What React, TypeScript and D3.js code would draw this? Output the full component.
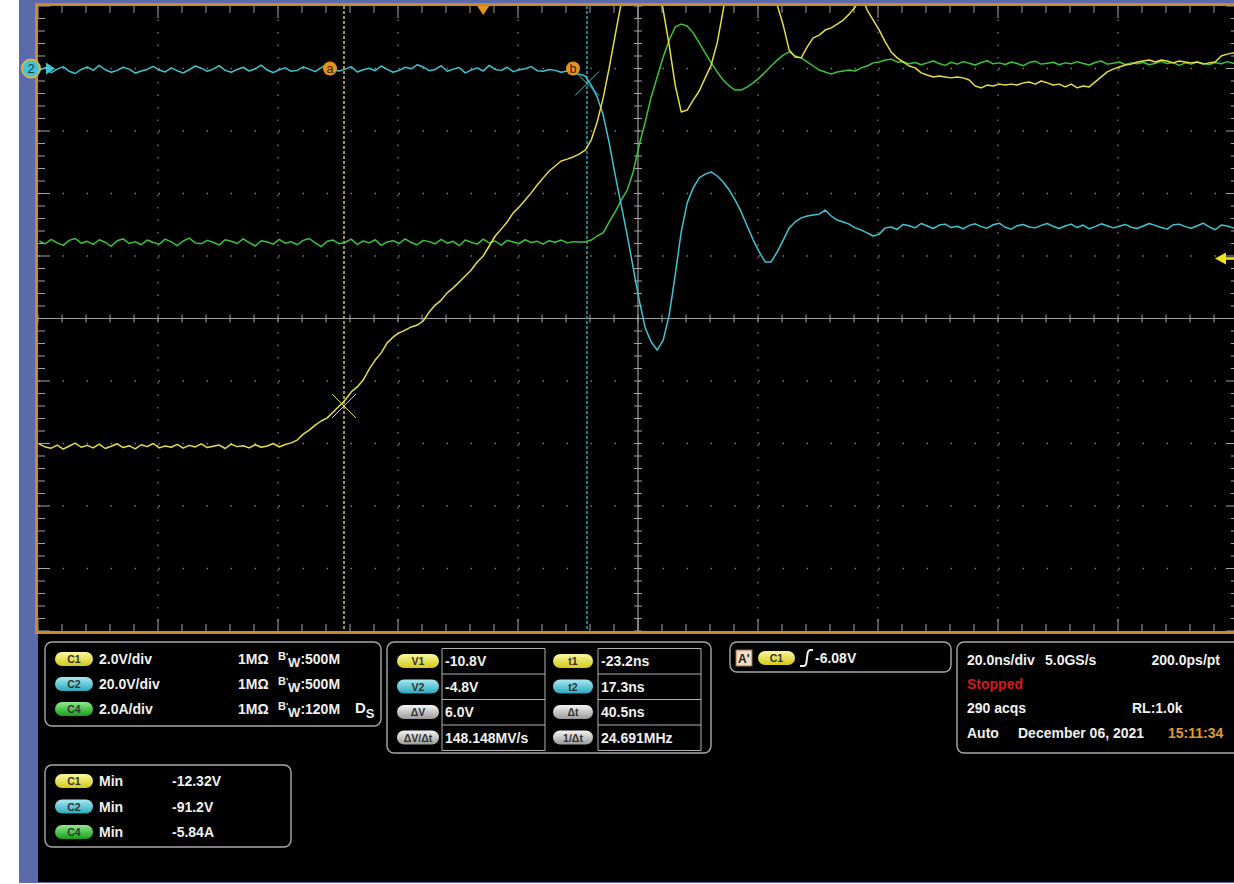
import React from "react";
import * as d3 from "d3";

const WIDTH = 1234;
const HEIGHT = 884;

// graticule: 10 x 10 divisions (120 px x 62.5 px)
const plot = { left: 38, top: 6, width: 1200, height: 625 };
const DIVS = 10;

// 20 ns/div, trigger point (t = 0) sits 3.7 div from the left edge
const timeDomain = [-74.2, 125.8];
const firstSampleNs = -74;
const sampleNs = 1;

// C1, volts (2.0 V/div)
const c1Volts = [
  -12.02, -12.11, -12.15, -12.05, -12.18, -12.08, -11.99, -12.12, -12.06, -12.14,
  -12.02, -12.16, -12.09, -12.01, -12.13, -12.07, -12.17, -12.04, -12.10, -12.0,
  -12.14, -12.08, -12.12, -12.03, -12.15, -12.06, -12.11, -12.01, -12.13, -12.09,
  -12.05, -12.16, -12.02, -12.10, -12.07, -12.14, -12.04, -12.12, -12.08, -12.0,
  -12.11, -12.03,
  -11.98, -11.89, -11.70, -11.57, -11.41, -11.28, -11.18, -10.99, -10.80, -10.61,
  -10.35, -10.19, -9.97, -9.62, -9.33, -9.10, -8.78, -8.59, -8.46, -8.37,
  -8.27, -8.21, -8.08, -7.79, -7.57, -7.41, -7.18, -7.02, -6.83, -6.64,
  -6.45, -6.19, -6.00, -5.68, -5.36, -5.14, -4.91, -4.62, -4.43, -4.21,
  -3.98, -3.73, -3.50, -3.28, -3.12, -2.96, -2.90, -2.83, -2.74, -2.61,
  -2.29, -1.71, -0.94, 0.02, 1.07, 2.10,
  3.15, 3.9, 4.3, 4.1, 3.5,
  2.83, 1.87, 0.75, -0.53, -1.39, -1.33, -1.01, -0.72, -0.30, 0.11, 0.82, 1.87, 2.99,
  3.6, 3.9, 4.0, 3.9, 3.6, 3.2, 2.83,
  2.03, 1.39, 0.59, 0.37, 0.34, 0.69, 0.98, 1.07, 1.23, 1.30, 1.42, 1.55, 1.74, 1.97, 2.35,
  1.87, 1.55, 1.23, 0.85, 0.53, 0.34, 0.21, 0.08, 0.02, -0.14, -0.21, -0.27, -0.24, -0.27,
  -0.30, -0.27, -0.30, -0.37,
  -0.56, -0.62, -0.53, -0.56, -0.50, -0.53, -0.50, -0.53, -0.46, -0.43,
  -0.50, -0.40, -0.46, -0.53, -0.50, -0.59, -0.50, -0.62, -0.56, -0.59,
  -0.43, -0.27, -0.11, -0.02, 0.05, 0.11, 0.14, 0.21, 0.24, 0.27,
  0.21, 0.27, 0.24, 0.18, 0.24, 0.21, 0.18, 0.21, 0.14, 0.18,
  0.21, 0.40, 0.46, 0.50, 0.43,
];

// C2, volts (20.0 V/div)
const c2Volts = [
  -0.6, 0.3, -1.3, -0.2, 0.6, -0.9, -1.6, -0.3, 0.5, -0.6, 1.0, -0.4, -1.2, -0.6, 0.4, -0.2, -1.5, -0.8, -0.3, 0.7,
  -0.5, -1.1, 0.2, -0.7, -1.4, -0.4, 0.8, 0.1, -0.9, -0.2, 0.9, -0.6, -1.2, -0.3, 0.4, -0.8, -0.1, 1.1, -0.5, -1.3,
  -0.4, 0.2, -0.9, -0.6, 0.5, -0.2, -1.0, 0.3, 1.3, -0.5, -0.8, -0.2, 0.6, -1.1, -0.4, 0.1, -0.7, 0.8, -0.3, -1.2,
  -0.6, 0.4, -0.1, 1.2, 0.5, -0.7, -0.3, 0.9, -0.9, -0.2, 0.3, -1.4, -0.5, 0.2, -0.8, 1.0, -0.3, -0.6, 0.4, -1.0,
  -0.4, -0.1, 0.6, -0.7, -0.9, -0.3, -0.6, -1.2, -0.8, -1.5, -1.8,
  -2.4, -5.3, -9.1, -14.9, -23.8, -34.1, -43.7, -53.3, -63.8, -74.1,
  -83.0, -87.5, -90.1, -86.9, -78.9, -66.1, -52.3, -43.0, -38.2, -35.0,
  -33.8, -33.1, -34.4, -36.3, -38.9, -42.1, -45.9, -50.4, -54.9, -58.7,
  -61.9, -61.9, -58.7, -54.9, -51.0, -49.1, -47.8, -47.2, -46.9, -46.6,
  -45.3, -47.2, -48.5, -49.1, -49.8, -51.0, -51.7, -52.6, -53.6, -53.0, -51.0,
  -50.7, -51.5, -49.9, -50.3, -51.0, -49.6, -50.4, -51.2, -50.1, -49.8,
  -50.9, -50.5, -51.3, -50.2, -49.7, -50.6, -51.1, -50.0, -49.5, -50.8,
  -51.4, -50.3, -49.9, -50.7, -51.0, -50.2, -49.6, -50.5, -51.2, -50.4,
  -49.8, -50.9, -50.1, -51.3, -50.6, -49.7, -50.3, -51.0, -50.5, -49.9,
  -50.8, -51.2, -50.4, -49.6, -50.2, -50.9, -51.4, -50.0, -49.8, -50.6,
  -51.1, -50.3, -49.5, -50.7, -51.6, -50.1, -50.4, -51.0, -50.6,
];

// C4, amps (2.0 A/div)
const c4Amps = [
  -5.52, -5.61, -5.47, -5.58, -5.66, -5.50, -5.44, -5.59, -5.53, -5.63,
  -5.48, -5.56, -5.69, -5.51, -5.45, -5.60, -5.54, -5.64, -5.49, -5.57,
  -5.62, -5.46, -5.55, -5.67, -5.52, -5.43, -5.58, -5.61, -5.50, -5.56,
  -5.65, -5.48, -5.53, -5.60, -5.45, -5.57, -5.68, -5.51, -5.55, -5.62,
  -5.47, -5.59, -5.54, -5.64, -5.50, -5.44, -5.58, -5.70, -5.53, -5.49,
  -5.61, -5.56, -5.46, -5.63, -5.52, -5.58, -5.48, -5.66, -5.55, -5.51,
  -5.60, -5.45, -5.57, -5.64, -5.50, -5.54, -5.61, -5.47, -5.59, -5.53,
  -5.67, -5.49, -5.56, -5.62, -5.46, -5.58, -5.52, -5.65, -5.50, -5.55,
  -5.60, -5.48, -5.57, -5.53, -5.62, -5.51, -5.56, -5.49, -5.58, -5.54, -5.55,
  -5.55, -5.49, -5.36, -5.26, -4.91, -4.59, -4.21, -3.89, -3.31, -2.45,
  -1.71, -0.91, -0.27, 0.37, 0.91, 1.33, 1.42, 1.36, 1.14, 0.82,
  0.50, 0.18, -0.11, -0.37, -0.56, -0.69, -0.69, -0.59, -0.46, -0.30,
  -0.11, 0.08, 0.27, 0.43, 0.53, 0.40, 0.34, 0.21, 0.08, -0.05,
  -0.11, -0.18, -0.11, -0.08, -0.05, -0.08, 0.02, 0.08, 0.18, 0.21, 0.27, 0.30, 0.21,
  0.21, 0.15, 0.19, 0.12, 0.18, 0.24, 0.16, 0.10, 0.20, 0.14,
  0.22, 0.17, 0.11, 0.19, 0.25, 0.15, 0.18, 0.13, 0.21, 0.16,
  0.09, 0.19, 0.23, 0.14, 0.17, 0.20, 0.12, 0.18, 0.15, 0.22,
  0.16, 0.11, 0.19, 0.24, 0.14, 0.17, 0.21, 0.13, 0.18, 0.15,
  0.20, 0.12, 0.17, 0.23, 0.16, 0.19, 0.10, 0.18, 0.14, 0.21,
  0.16, 0.13, 0.19, 0.15, 0.22, 0.17, 0.14,
];

const YELLOW = "#e3dd48";
const CYAN = "#40c4d4";
const GREEN = "#3cc43c";
const ORANGE = "#e8921e";

// all channels have their zero 4 div above centre
const ZERO_DIVS_ABOVE_CENTER = 4;

const channels = [
  { name: "C4", values: c4Amps, perDiv: 2.0, color: GREEN },
  { name: "C2", values: c2Volts, perDiv: 20.0, color: CYAN },
  { name: "C1", values: c1Volts, perDiv: 2.0, color: YELLOW },
];

const cursorTimes = [-23.2, 17.3];
const cursorNames = ["a", "b"];
const cursorLevels = [-10.8, -4.8]; // V1 on C1, V2 on C2
const triggerLevel = -6.08;

const setupRows = [
  { badge: "C1", scale: "2.0V/div", bw: ":500M" },
  { badge: "C2", scale: "20.0V/div", bw: ":500M" },
  { badge: "C4", scale: "2.0A/div", bw: ":120M" },
];
const measureRows = [
  ["V1", "-10.8V", "t1", "-23.2ns"],
  ["V2", "-4.8V", "t2", "17.3ns"],
  ["ΔV", "6.0V", "Δt", "40.5ns"],
  ["ΔV/Δt", "148.148MV/s", "1/Δt", "24.691MHz"],
];
const minRows = [
  ["C1", "Min", "-12.32V"],
  ["C2", "Min", "-91.2V"],
  ["C4", "Min", "-5.84A"],
];

const FONT = "'Liberation Sans', Arial, sans-serif";

const badgeFill: Record<string, string> = {
  C1: "url(#gY)", V1: "url(#gY)", t1: "url(#gY)",
  C2: "url(#gC)", V2: "url(#gC)", t2: "url(#gC)",
  C4: "url(#gG)",
};

const Badge = ({ x, cy, w, label }: { x: number; cy: number; w: number; label: string }) => (
  <g>
    <rect x={x} y={cy - 7} width={w} height={14} rx={7} fill={badgeFill[label] || "url(#gW)"} />
    <text x={x + w / 2} y={cy + 4} textAnchor="middle" fontSize={10.5} fill="#333" fontFamily={FONT}>
      {label}
    </text>
  </g>
);

const Panel = ({ x, y, w, h }: { x: number; y: number; w: number; h: number }) => (
  <rect x={x} y={y} width={w} height={h} rx={7} fill="#000" stroke="#a8a8a8" strokeWidth={1.4} />
);

export default function App() {
  const x = d3.scaleLinear().domain(timeDomain).range([plot.left, plot.left + plot.width]);
  const divH = plot.height / DIVS;
  const divW = plot.width / DIVS;
  const yFor = (perDiv: number) =>
    d3
      .scaleLinear()
      .domain([-(DIVS / 2 + ZERO_DIVS_ABOVE_CENTER) * perDiv, (DIVS / 2 - ZERO_DIVS_ABOVE_CENTER) * perDiv])
      .range([plot.top + plot.height, plot.top]);

  const xc = plot.left + plot.width / 2;
  const yc = plot.top + plot.height / 2;
  const bottom = plot.top + plot.height;
  const right = plot.left + plot.width;
  const xMinor = d3.range(0, DIVS * 5 + 1).map((i) => ({ v: plot.left + (i * divW) / 5, major: i % 5 === 0 }));
  const yMinor = d3.range(0, DIVS * 5 + 1).map((i) => ({ v: plot.top + (i * divH) / 5, major: i % 5 === 0 }));
  const gridIdx = d3.range(1, DIVS).filter((i) => i !== DIVS / 2);
  const tickCol = "#a4a4a4";

  const yC1 = yFor(2.0);
  const yC2 = yFor(20.0);
  const crosses = [
    { cx: x(cursorTimes[0]), cy: yC1(cursorLevels[0]), color: YELLOW },
    { cx: x(cursorTimes[1]), cy: yC2(cursorLevels[1]), color: CYAN },
  ];
  const zeroY = yC2(0);
  const trigY = yC1(triggerLevel);
  const trigX = x(0);

  return (
    <svg width={WIDTH} height={HEIGHT} style={{ position: "absolute", left: 0, top: 0 }}>
      <defs>
        <clipPath id="scr">
          <rect x={plot.left} y={plot.top} width={plot.width} height={plot.height} />
        </clipPath>
        {[
          ["gY", "#fbf7a0", "#d4c818"],
          ["gC", "#a8eaf2", "#2ba8bb"],
          ["gG", "#8ee88e", "#17a017"],
          ["gW", "#f4f4f4", "#9a9a9a"],
        ].map(([id, a, b]) => (
          <linearGradient key={id} id={id} x1="0" y1="0" x2="0" y2="1">
            <stop offset="0" stopColor={a} />
            <stop offset="1" stopColor={b} />
          </linearGradient>
        ))}
      </defs>

      <rect width={WIDTH} height={HEIGHT} fill="#fff" />
      <rect x={19} y={0} width={WIDTH - 19} height={HEIGHT - 1} fill="#5b6aab" />
      <rect x={38} y={634} width={WIDTH - 38} height={248} fill="#000" />
      <rect x={plot.left} y={plot.top} width={plot.width} height={plot.height} fill="#000" />

      {/* graticule */}
      <g>
        {gridIdx.map((i) => (
          <line key={"gv" + i} x1={plot.left + i * divW} x2={plot.left + i * divW} y1={plot.top + 1} y2={bottom}
            stroke="#7a7a7a" strokeWidth={1.3} strokeDasharray={`1.5 ${divH / 5 - 1.5}`} />
        ))}
        {gridIdx.map((i) => (
          <line key={"gh" + i} x1={plot.left + 0.5} x2={right} y1={plot.top + i * divH} y2={plot.top + i * divH}
            stroke="#7a7a7a" strokeWidth={1.3} strokeDasharray={`1.5 ${divW / 5 - 1.5}`} />
        ))}
        <line x1={plot.left} x2={right} y1={yc} y2={yc} stroke="#9c9c9c" strokeWidth={1.2} />
        <line x1={xc} x2={xc} y1={plot.top} y2={bottom} stroke="#9c9c9c" strokeWidth={1.2} />
        {xMinor.map((t, i) => (
          <g key={"tx" + i} stroke={tickCol} strokeWidth={1}>
            <line x1={t.v} x2={t.v} y1={plot.top} y2={plot.top + (t.major ? 12 : 7)} />
            <line x1={t.v} x2={t.v} y1={bottom} y2={bottom - (t.major ? 12 : 7)} />
            <line x1={t.v} x2={t.v} y1={yc - 4} y2={yc + 4} />
          </g>
        ))}
        {yMinor.map((t, i) => (
          <g key={"ty" + i} stroke={tickCol} strokeWidth={1}>
            <line x1={plot.left} x2={plot.left + (t.major ? 12 : 7)} y1={t.v} y2={t.v} />
            <line x1={right} x2={right - (t.major ? 12 : 7)} y1={t.v} y2={t.v} />
            <line x1={xc - 4} x2={xc + 4} y1={t.v} y2={t.v} />
          </g>
        ))}
      </g>

      {/* cursors */}
      <line x1={x(cursorTimes[0])} x2={x(cursorTimes[0])} y1={plot.top} y2={bottom}
        stroke="#d9c870" strokeWidth={1.5} strokeDasharray="3 2" />
      <line x1={x(cursorTimes[1])} x2={x(cursorTimes[1])} y1={plot.top} y2={bottom}
        stroke="#1eaabb" strokeWidth={1.5} strokeDasharray="3 2" />

      {/* waveforms */}
      <g clipPath="url(#scr)">
        {channels.map((c) => {
          const y = yFor(c.perDiv);
          const line = d3
            .line<number>()
            .x((_, i) => x(firstSampleNs + i * sampleNs))
            .y((d) => y(d));
          return <path key={c.name} d={line(c.values) || ""} fill="none" stroke={c.color} strokeWidth={1.5} strokeLinejoin="round" />;
        })}
      </g>

      {crosses.map((p, i) => (
        <g key={"x" + i} stroke={p.color} strokeWidth={1}>
          <line x1={p.cx - 12} y1={p.cy - 12} x2={p.cx + 12} y2={p.cy + 12} />
          <line x1={p.cx - 12} y1={p.cy + 12} x2={p.cx + 12} y2={p.cy - 12} />
        </g>
      ))}

      {cursorTimes.map((t, i) => (
        <g key={"cm" + i}>
          <circle cx={x(t) - 14} cy={zeroY} r={7} fill={ORANGE} />
          <text x={x(t) - 14} y={zeroY + 4.5} textAnchor="middle" fontSize={12.5} fill="#2a1a00" fontFamily={FONT}>
            {cursorNames[i]}
          </text>
        </g>
      ))}

      {/* screen border */}
      <rect x={plot.left - 1.5} y={plot.top - 1.5} width={plot.width + 3} height={plot.height + 3}
        fill="none" stroke="#c98a2e" strokeWidth={3} />

      {/* channel 2 marker, trigger position, trigger level */}
      <path d={`M46,${zeroY - 6} L55,${zeroY} L46,${zeroY + 6} Z`} fill={CYAN} />
      <circle cx={31} cy={zeroY} r={9} fill={CYAN} stroke="#d9b24a" strokeWidth={2} />
      <text x={31} y={zeroY + 4.5} textAnchor="middle" fontSize={13} fill="#163c44" fontFamily={FONT}>2</text>
      <path d={`M${trigX - 6},${plot.top} L${trigX + 6},${plot.top} L${trigX},${plot.top + 9} Z`} fill={ORANGE} />
      <path d={`M1215,${trigY} L1226,${trigY - 6} L1226,${trigY + 6} Z`} fill="#f2e21c" />
      <line x1={1224} x2={1236} y1={trigY} y2={trigY} stroke="#f2e21c" strokeWidth={2.5} />

      {/* readouts */}
      <g fontFamily={FONT} fontWeight="bold" fill="#f0f0f0" fontSize={14}>
        <Panel x={45} y={642} w={336} h={84} />
        {setupRows.map((r, i) => {
          const cy = 659 + i * 25;
          return (
            <g key={r.badge}>
              <Badge x={55} cy={cy} w={38} label={r.badge} />
              <text x={99} y={cy + 5}>{r.scale}</text>
              <text x={238} y={cy + 5}>1MΩ</text>
              <text x={278} y={cy + 5}>
                <tspan fontSize={11} dy={-4}>B</tspan>
                <tspan fontSize={9} dy={-1}>'</tspan>
                <tspan fontSize={13} dy={8}>W</tspan>
                <tspan dy={-3}>{r.bw}</tspan>
              </text>
            </g>
          );
        })}
        <text x={355} y={713} fontSize={15}>D<tspan fontSize={13} dy={5}>S</tspan></text>

        <Panel x={387} y={642} w={324} h={111} />
        {measureRows.map((r, i) => {
          const cy = 661 + i * 25.5;
          return (
            <g key={r[0]}>
              <Badge x={397} cy={cy} w={42} label={r[0]} />
              <Badge x={553} cy={cy} w={40} label={r[2]} />
              <text x={445} y={cy + 5}>{r[1]}</text>
              <text x={601} y={cy + 5}>{r[3]}</text>
            </g>
          );
        })}
        <g fill="none" stroke="#b0b0b0" strokeWidth={1}>
          {[442, 598].map((cx) => (
            <g key={cx}>
              {d3.range(0, 5).map((k) => (
                <line key={k} x1={cx} x2={cx + 103} y1={648.5 + k * 25.5} y2={648.5 + k * 25.5} />
              ))}
              <line x1={cx} x2={cx} y1={648.5} y2={750.5} />
              <line x1={cx + 103} x2={cx + 103} y1={648.5} y2={750.5} />
            </g>
          ))}
        </g>

        <Panel x={730} y={642} w={221} h={30} />
        <rect x={736} y={650} width={16} height={16} fill="#f3ddc6" stroke="#a07050" strokeWidth={1} />
        <text x={738} y={663} fontSize={12} fill="#222">A'</text>
        <Badge x={758} cy={658} w={37} label="C1" />
        <path d="M800,666 L804,666 Q806,666 806.5,662 L807.5,654 Q808,650 811,650 L813,650" fill="none" stroke="#f0f0f0" strokeWidth={2} />
        <text x={815} y={663}>-6.08V</text>

        <Panel x={957} y={642} w={290} h={111} />
        <text x={967} y={665}>20.0ns/div</text>
        <text x={1045} y={665}>5.0GS/s</text>
        <text x={1220} y={665} textAnchor="end">200.0ps/pt</text>
        <text x={967} y={689} fill="#d41a1a">Stopped</text>
        <text x={967} y={713}>290 acqs</text>
        <text x={1132} y={713}>RL:1.0k</text>
        <text x={967} y={738}>Auto</text>
        <text x={1018} y={738}>December 06, 2021</text>
        <text x={1168} y={738} fill="#e39a34">15:11:34</text>

        <Panel x={45} y={765} w={246} h={82} />
        {minRows.map((r, i) => {
          const cy = 781 + i * 25.5;
          return (
            <g key={r[0]}>
              <Badge x={55} cy={cy} w={38} label={r[0]} />
              <text x={99} y={cy + 5}>{r[1]}</text>
              <text x={172} y={cy + 5}>{r[2]}</text>
            </g>
          );
        })}
      </g>
    </svg>
  );
}
